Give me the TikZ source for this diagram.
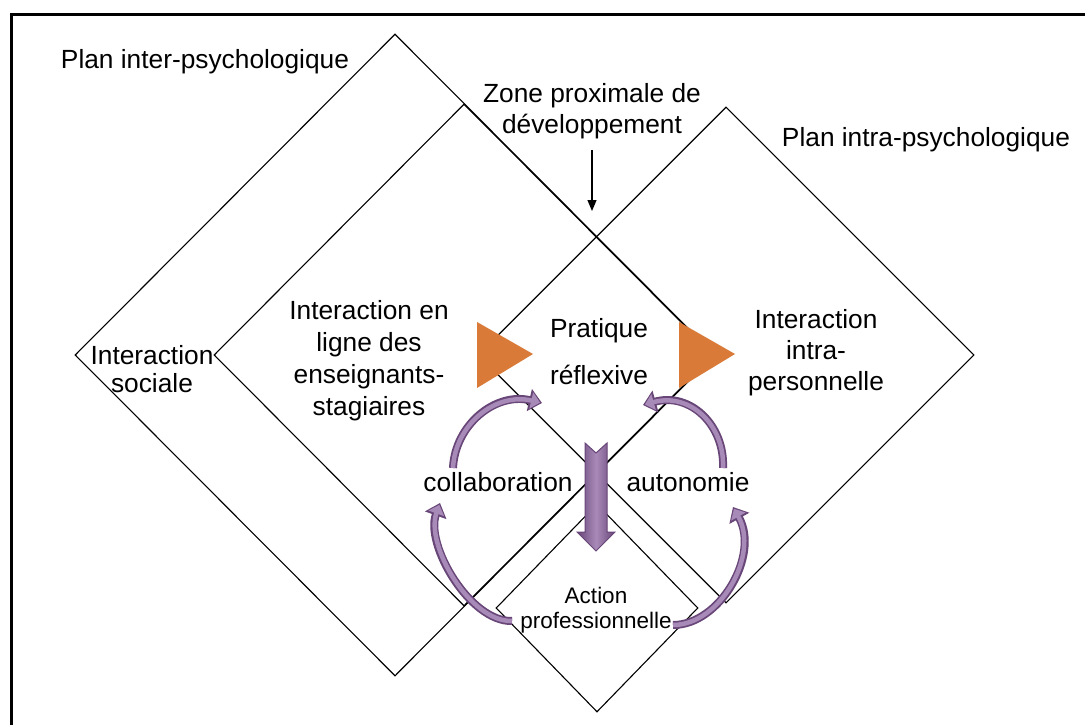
\documentclass[tikz,border=0pt]{standalone}
\usepackage{fontspec}
\setmainfont{Liberation Sans}
\usetikzlibrary{positioning, shapes.geometric, arrows.meta}
\definecolor{orangetri}{RGB}{217,122,56}
\definecolor{mauve}{RGB}{138,104,156}
\definecolor{mauvelight}{RGB}{168,138,184}
\definecolor{mauvedark}{RGB}{104,70,120}

\begin{document}
\begin{tikzpicture}[x=1pt, y=-1pt,
    plan/.style={diamond, draw, line width=1.1pt, inner sep=0pt},
    txt/.style={align=center, inner sep=0pt, font=\fontsize{26.3}{31}\selectfont},
    smalltxt/.style={align=center, inner sep=0pt, font=\fontsize{22.5}{25}\selectfont},
    curveout/.style={draw=mauvedark, line width=8pt, -{Triangle[length=13pt, width=22pt]}},
    curvein/.style={draw=mauvelight, line width=4.5pt, shorten >=2pt, -{Triangle[length=9pt, width=16pt]}},
    tri/.style={fill=orangetri}]
  \useasboundingbox (0,0) rectangle (1085,725);
  \fill[white] (0,0) rectangle (1085,725);
  \draw[line width=3pt] (11,725) |- (1085,15);

  \node[plan, minimum width=640pt, minimum height=642pt] (PLAN1) at (395,355) {};
  \node[plan, minimum width=500pt, minimum height=502pt] (PLAN2) at (464,355) {};
  \node[plan, minimum width=496pt, minimum height=496pt] (PLAN3) at (726,355) {};
  \node[plan, minimum width=202pt, minimum height=208pt] (PLAN4) at (597,608) {};

  \fill[tri] (477,322) -- (533,354) -- (477,388) -- cycle;
  \fill[tri] (679,322) -- (735,354) -- (679,388) -- cycle;

  \node[txt] (TXT1) at (205,62) {Plan inter-psychologique};
  \node[txt] (TXT2) at (592,111) {Zone proximale de\\développement};
  \node[txt] (TXT3) at (926,140) {Plan intra-psychologique};
  \node[txt, font=\fontsize{26.3}{28}\selectfont] (TXT4) at (152,369) {Interaction\\sociale};
  \node[txt, font=\fontsize{26.3}{32}\selectfont] (TXT5) at (369,361) {Interaction en\\ligne des\\enseignants-\\stagiaires};
  \node[txt, font=\fontsize{26.3}{47}\selectfont] (TXT6) at (599,352) {Pratique\\réflexive};
  \node[txt] (TXT7) at (816,353) {Interaction\\intra-\\personnelle};
  \node[txt] (TXT8) at (498,482) {collaboration};
  \node[txt] (TXT9) at (688,482) {autonomie};
  \node[smalltxt] (TXT10) at (596,610) {Action\\professionnelle};

  \coordinate (ZT) at (592,211);
  \coordinate (P1) at (453,468);
  \coordinate (P2) at (542,403);
  \coordinate (P3) at (723,468);
  \coordinate (P4) at (643,405);
  \coordinate (P5) at (512,621);
  \coordinate (P6) at (440,503);
  \coordinate (P7) at (673,625);
  \coordinate (P8) at (733,507);

  \draw[line width=1.2pt, shorten <=11pt, -{Triangle[length=11pt, width=9pt]}] (TXT2.south) -- (ZT);

  \shade[left color=mauvedark, right color=mauvedark, middle color=mauvelight, draw=mauvedark, line width=1pt] (585,443) -- (596,453) -- (607,443) -- (607,532) -- (615,532) -- (596,551) -- (577,532) -- (585,532) -- cycle;

  \draw[curveout] (P1) .. controls (455,425) and (495,392) .. (P2);
  \draw[curvein] (P1) .. controls (455,425) and (495,392) .. (P2);
  \draw[curveout] (P3) .. controls (725,425) and (690,392) .. (P4);
  \draw[curvein] (P3) .. controls (725,425) and (690,392) .. (P4);
  \draw[curveout] (P5) .. controls (470,622) and (425,545) .. (P6);
  \draw[curvein] (P5) .. controls (470,622) and (425,545) .. (P6);
  \draw[curveout] (P7) .. controls (720,625) and (760,555) .. (P8);
  \draw[curvein] (P7) .. controls (720,625) and (760,555) .. (P8);
\end{tikzpicture}
\end{document}
